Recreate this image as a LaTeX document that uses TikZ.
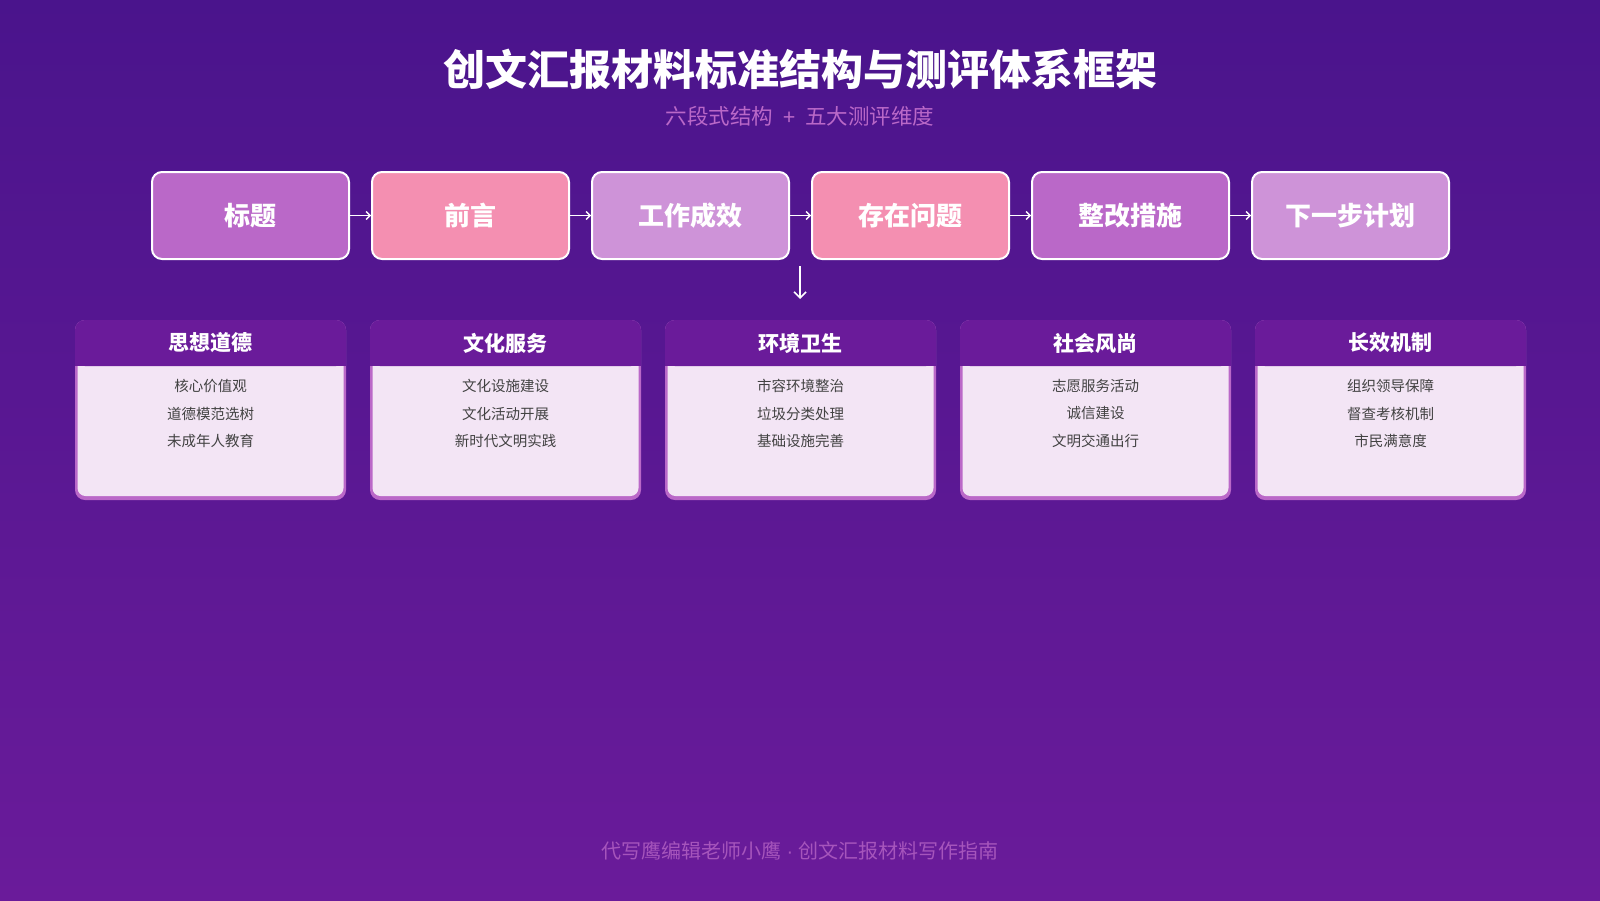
\documentclass[tikz,border=0pt]{standalone}
\usepackage{fontspec}
\setmainfont{Noto Sans CJK SC}
\newfontfamily\latinfont{Liberation Sans}
\usepackage{tikz}
\usetikzlibrary{arrows.meta}

\definecolor{bgtop}{HTML}{4A148C}
\definecolor{bgbot}{HTML}{6A1B9A}
\definecolor{plum}{HTML}{BA68C8}
\definecolor{rose}{HTML}{F48FB1}
\definecolor{lilac}{HTML}{CE93D8}
\definecolor{cardhead}{HTML}{6A1B9A}
\definecolor{cardbody}{HTML}{F3E5F5}
\definecolor{itemgray}{HTML}{424242}

\tikzset{
	stagebox/.style={draw=white, line width=2pt, rounded corners=10pt, minimum width=197pt, minimum height=87pt, text=white, font=\fontsize{26}{30}\selectfont\bfseries},
	flowarrow/.style={draw=white, line width=1.3pt, -{Straight Barb[length=4pt,width=8pt]}},
	downarrow/.style={draw=white, line width=1.6pt, -{Straight Barb[length=6pt,width=12pt]}},
	headtext/.style={text=white, font=\fontsize{21}{25}\selectfont\bfseries},
	itemtext/.style={text=itemgray, font=\fontsize{14.5}{17}\selectfont},
}

\begin{document}
\begin{tikzpicture}[x=1pt, y=-1pt]
			%%%%% START %%%%%
			
			\useasboundingbox (0, 0) rectangle (1600, 900);
			\shade[top color=bgtop, bottom color=bgbot] (0, 0) rectangle (1600, 900);
			
			\node[text=white, font=\fontsize{42}{50}\selectfont\bfseries] (title) at (800, 69) {创文汇报材料标准结构与测评体系框架};
			\node[text=plum, font=\fontsize{21.5}{25}\selectfont] (subtitle) at (800, 116) {六段式结构\,{\latinfont{} + }\,五大测评维度};
			
			\node[stagebox, fill=plum] (s1) at (250.5, 215.5) {标题};
			\node[stagebox, fill=rose] (s2) at (470.5, 215.5) {前言};
			\node[stagebox, fill=lilac] (s3) at (690.5, 215.5) {工作成效};
			\node[stagebox, fill=rose] (s4) at (910.5, 215.5) {存在问题};
			\node[stagebox, fill=plum] (s5) at (1130.5, 215.5) {整改措施};
			\node[stagebox, fill=lilac] (s6) at (1350.5, 215.5) {下一步计划};
			
			\draw[flowarrow] (s1) -- (s2);
			\draw[flowarrow] (s2) -- (s3);
			\draw[flowarrow] (s3) -- (s4);
			\draw[flowarrow] (s4) -- (s5);
			\draw[flowarrow] (s5) -- (s6);
			
			\coordinate (downtop) at (800, 266);
			\coordinate (downbot) at (800, 299);
			\draw[downarrow] (downtop) -- (downbot);
			
			% five cards
			\foreach \cx/\head/\ia/\ib/\ic in {
				75/思想道德/核心价值观/道德模范选树/未成年人教育,
				370/文化服务/文化设施建设/文化活动开展/新时代文明实践,
				665/环境卫生/市容环境整治/垃圾分类处理/基础设施完善,
				960/社会风尚/志愿服务活动/诚信建设/文明交通出行,
				1255/长效机制/组织领导保障/督查考核机制/市民满意度}{
				\fill[plum, rounded corners=10pt] (\cx, 320) rectangle (\cx+271, 500);
				\fill[cardbody, rounded corners=8pt] (\cx+2.5, 340) rectangle (\cx+268.5, 496);
				\fill[cardhead, rounded corners=10pt] (\cx, 320) rectangle (\cx+271, 366);
				\fill[cardhead] (\cx, 350) rectangle (\cx+271, 366);
				\node[headtext] (h\cx) at (\cx+135.5, 343) {\head};
				\node[itemtext] (a\cx) at (\cx+135.5, 386) {\ia};
				\node[itemtext] (b\cx) at (\cx+135.5, 413.5) {\ib};
				\node[itemtext] (c\cx) at (\cx+135.5, 441) {\ic};
			}
			
			\node[text=plum!75!bgbot, font=\fontsize{20}{24}\selectfont] (footer) at (800, 851) {代写鹰编辑老师小鹰{\latinfont{} · }创文汇报材料写作指南};
			
			%%%%% END %%%%%
		\end{tikzpicture}
\end{document}
